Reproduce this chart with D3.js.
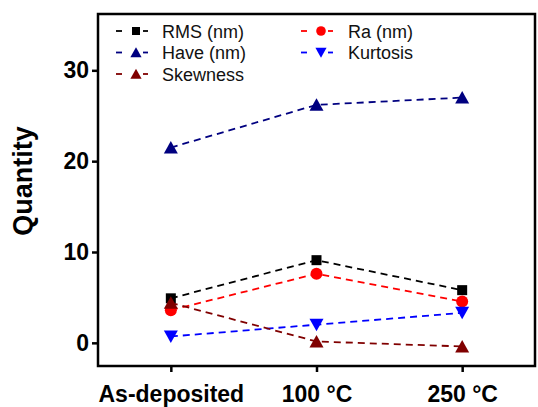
<!DOCTYPE html>
<html>
<head>
<style>
body {margin:0; background:#fff;}
svg {display:block;}
text {font-family: "Liberation Sans", Arial, sans-serif;}
</style>
</head>
<body>
<div id="chart"></div>
<script src="https://d3js.org/d3.v7.min.js"></script>
<script>
// data
var categories = ["As-deposited", "100 \u00B0C", "250 \u00B0C"]
var rms = [4.9, 9.1, 5.8]
var ra = [3.6, 7.6, 4.55]
var have = [21.5, 26.2, 27.0]
var kurtosis = [0.7, 2.0, 3.3]
var skewness = [4.4, 0.15, -0.4]
var yTicks = [0, 10, 20, 30]

var width = 538, height = 407
var margin = {top: 14, right: 3, bottom: 41, left: 98}
var w = width - margin.left - margin.right
var h = height - margin.top - margin.bottom

var series = [
  {name: "RMS (nm)", values: rms, color: "#000000", symbol: "square"},
  {name: "Ra (nm)", values: ra, color: "#ff0000", symbol: "circle"},
  {name: "Have (nm)", values: have, color: "#000080", symbol: "up"},
  {name: "Kurtosis", values: kurtosis, color: "#0000ff", symbol: "down"},
  {name: "Skewness", values: skewness, color: "#800000", symbol: "up"}
]

var svg = d3.select("#chart").append("svg")
    .attr("width", width).attr("height", height)
var g = svg.append("g")
    .attr("transform", "translate(" + margin.left + "," + margin.top + ")")

var x = d3.scaleLinear().domain([-0.5, 2.5]).range([0, w])
var y = d3.scaleLinear().domain([-2.55, 36.2]).range([h, 0])

// marker shapes, k scales them down for the legend
function marker(sel, s, color, k) {
  k = k || 1
  if (s == "square") {
    sel.append("rect").attr("x", -5 * k).attr("y", -5 * k).attr("width", 10 * k).attr("height", 10 * k).attr("fill", color)
  } else if (s == "circle") {
    sel.append("circle").attr("r", 6 * k).attr("fill", color)
  } else if (s == "up") {
    sel.append("path").attr("d", "M0," + (-6.5 * k) + "L" + (7 * k) + "," + (6 * k) + "L" + (-7 * k) + "," + (6 * k) + "Z").attr("fill", color)
  } else {
    sel.append("path").attr("d", "M0," + (6.5 * k) + "L" + (7 * k) + "," + (-6 * k) + "L" + (-7 * k) + "," + (-6 * k) + "Z").attr("fill", color)
  }
}

var line = d3.line()
  .x(function(d, i) { return x(i) })
  .y(function(d) { return y(d) })

series.forEach(function(s) {
  g.append("path")
    .attr("d", line(s.values))
    .attr("fill", "none")
    .attr("stroke", s.color)
    .attr("stroke-width", 1.8)
    .attr("stroke-dasharray", "7,5")
})
series.forEach(function(s) {
  s.values.forEach(function(v, i) {
    var m = g.append("g").attr("transform", "translate(" + x(i) + "," + y(v) + ")")
    marker(m, s.symbol, s.color)
  })
})

// frame
g.append("rect").attr("x", 0).attr("y", 0).attr("width", w).attr("height", h)
  .attr("fill", "none").attr("stroke", "#000").attr("stroke-width", 2.5)

// axes
var yAxis = g.append("g").call(d3.axisLeft(y).tickValues(yTicks).tickSize(6).tickPadding(3))
var xAxis = g.append("g").attr("transform", "translate(0," + h + ")")
  .call(d3.axisBottom(x).tickValues([0, 1, 2]).tickFormat(function(d) { return categories[d] }).tickSize(6).tickPadding(14))
;[xAxis, yAxis].forEach(function(a) {
  a.select(".domain").remove()
  a.selectAll(".tick line").attr("stroke-width", 2.5)
  a.selectAll("text").attr("fill", "#000").style("font-size", "23px").style("font-weight", "bold")
    .style("font-family", "'Liberation Sans', Arial, sans-serif")
})

svg.append("text")
  .attr("transform", "translate(32,181) rotate(-90)")
  .attr("text-anchor", "middle")
  .style("font-size", "27px").style("font-weight", "bold")
  .text("Quantity")

// legend
var legPos = [[136, 31], [321, 31], [136, 52.5], [321, 52.5], [136, 74]]
series.forEach(function(s, i) {
  var lg = svg.append("g").attr("transform", "translate(" + legPos[i][0] + "," + legPos[i][1] + ")")
  lg.append("line").attr("x1", -20).attr("x2", -14).attr("stroke", s.color).attr("stroke-width", 1.8)
  lg.append("line").attr("x1", 7).attr("x2", 12).attr("stroke", s.color).attr("stroke-width", 1.8)
  marker(lg, s.symbol, s.color, 0.8)
  lg.append("text").attr("x", i % 2 == 0 ? 26 : 27).attr("y", 6.5)
    .attr("fill", "#111")
    .style("font-size", "18px").text(s.name)
})
</script>
</body>
</html>
